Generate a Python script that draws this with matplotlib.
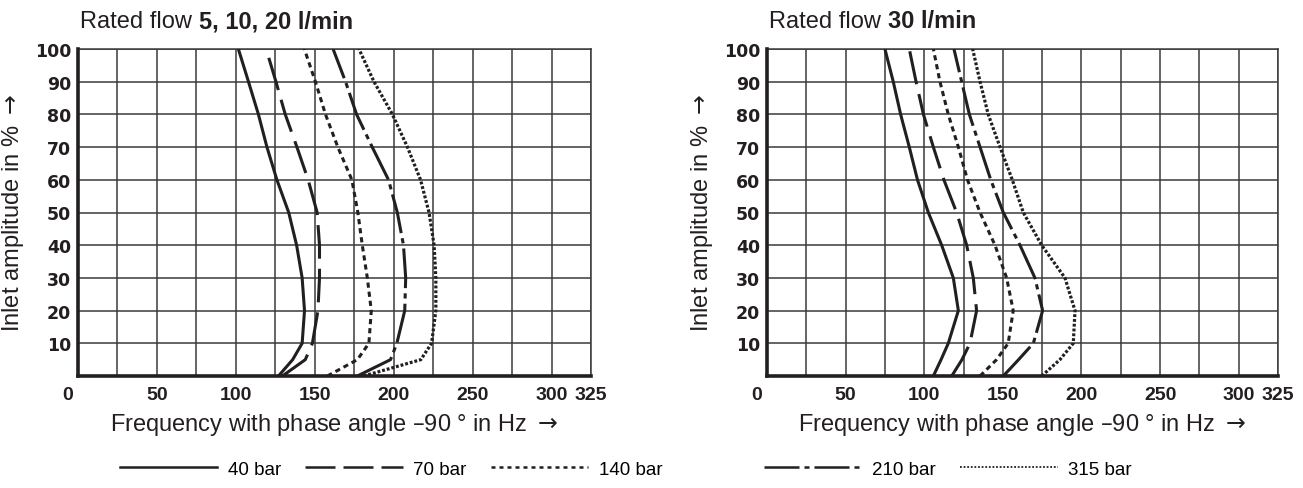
import matplotlib
matplotlib.use("Agg")
import numpy as np
from matplotlib import pyplot as plt
from matplotlib.lines import Line2D
from matplotlib import transforms

# amplitude levels in % (shared by every curve)
amplitude = [0, 5, 10, 20, 30, 40, 50, 60, 70, 80, 90, 100]

# rated flow 5, 10, 20 l/min : frequency in Hz at each amplitude
left_40 = [127, 136, 142, 143.5, 142, 138.5, 133.5, 126, 119.7, 114.3, 108, 101.6]
left_70 = [129.5, 144, 148.5, 152, 153, 153, 151.5, 145.8, 138.7, 131.3, 125.4, 119.2]
left_140 = [158, 177, 184.3, 185.8, 183.3, 180.1, 177.3, 173.5, 164.6, 156.8, 150.4, 143.4]
left_210 = [177, 198, 202, 207, 207.6, 206.2, 202.3, 196.7, 186.4, 176.5, 169.5, 161.6]
left_315 = [181, 217.2, 224, 226.7, 226.7, 225.6, 222.4, 217, 208.7, 199.2, 187.5, 178]

# rated flow 30 l/min
right_40 = [105.8, 110.7, 115.3, 121.7, 118.5, 111.1, 102.6, 95.7, 90.5, 85, 80.3, 75]
right_70 = [117.5, 124, 129.1, 133.3, 131.2, 127, 120.6, 112.5, 105.8, 99.5, 94.8, 90.5]
right_140 = [135.5, 146, 153.4, 156.6, 152.4, 145, 135.5, 127.5, 121.7, 115.3, 110, 105.8]
right_210 = [150.3, 160, 169.4, 175.3, 170.4, 160.9, 150.3, 142.3, 135.5, 128.7, 123.8, 118.9]
right_315 = [174.7, 186.3, 194.8, 195.9, 189.5, 174.7, 163, 156, 148.2, 140.7, 135.5, 130.8]

labels = ["40 bar", "70 bar", "140 bar", "210 bar", "315 bar"]
x_ticks = list(range(0, 326, 25))
x_ticklabels = ["", "", "50", "", "100", "", "150", "", "200", "", "250", "", "300", "325"]
y_ticks = list(range(0, 101, 10))
y_ticklabels = [""] + [str(v) for v in range(10, 101, 10)]

styles = [
    dict(linestyle="-", lw=2.2),
    dict(linestyle=(0, (11, 3.3)), lw=2.2),
    dict(linestyle=(0, (1.7, 1.3)), lw=2.2),
    dict(linestyle=(0, (13, 1.7, 1.7, 1.7)), lw=2.2),
    dict(linestyle=(0, (0.9, 0.6)), lw=2.3),
]
legend_styles = [
    dict(linestyle="-", lw=1.8),
    dict(linestyle=(0, (12, 3.2)), lw=1.8),
    dict(linestyle=(0, (1.6, 1.6)), lw=1.8),
    dict(linestyle=(0, (14, 2, 2, 2)), lw=1.8),
    dict(linestyle=(0, (1, 1)), lw=1.3),
]

text_font = ["Liberation Sans", "DejaVu Sans"]
ink = "#231f20"
label_size = 17

fig = plt.figure(figsize=(13.03, 4.89), dpi=100)
ax_l = fig.add_axes([78 / 1303, 1 - 377 / 489, 513 / 1303, 327 / 489])
ax_r = fig.add_axes([767 / 1303, 1 - 377 / 489, 511 / 1303, 327 / 489])


def draw_panel(ax, series, bold_part):
    for freq, st in zip(series, styles):
        ax.plot(freq, amplitude, color=ink, solid_capstyle="butt",
                dash_capstyle="butt", zorder=3, **st)
    ax.set_xlim(0, 325)
    ax.set_ylim(0, 100)
    ax.set_xticks(x_ticks)
    ax.set_xticklabels(x_ticklabels, family=["Liberation Sans", "DejaVu Sans"],
                       fontweight="bold", fontsize=14, color=ink)
    ax.set_yticks(y_ticks)
    ax.set_yticklabels(y_ticklabels, family="DejaVu Sans", fontweight="bold",
                       fontsize=12.5, color=ink)
    ax.tick_params(axis="both", length=0)
    ax.tick_params(axis="x", pad=7)
    ax.tick_params(axis="y", pad=5)
    ax.grid(True, color="#3a3a3a", lw=1.1, zorder=1)
    for side in ["left", "bottom"]:
        ax.spines[side].set_linewidth(2.6)
        ax.spines[side].set_color(ink)
        ax.spines[side].set_zorder(5)
    for side in ["top", "right"]:
        ax.spines[side].set_linewidth(1.1)
        ax.spines[side].set_color("#3a3a3a")
    # the "0" sits a little left of the axis corner
    off = transforms.ScaledTranslation(-10 / 100, -7 / 72, fig.dpi_scale_trans)
    ax.text(0, 0, "0", transform=ax.get_xaxis_transform() + off, ha="center",
            va="top", family=["Liberation Sans", "DejaVu Sans"],
            fontweight="bold", fontsize=14, color=ink)
    ax.set_xlabel("Frequency with phase angle \u201390 \u00b0 in Hz $\\rightarrow$",
                  family=text_font, fontsize=label_size, labelpad=6, color=ink)
    ax.set_ylabel("Inlet amplitude in % $\\rightarrow$", family=text_font,
                  fontsize=label_size, labelpad=6, color=ink)
    t = ax.text(0.004, 1.067, "Rated flow ", transform=ax.transAxes,
                family=text_font, fontsize=label_size, va="baseline", color=ink)
    ax.annotate(bold_part, xycoords=t, xy=(1, 0), va="bottom",
                family=text_font, fontsize=label_size, fontweight="bold", color=ink)


draw_panel(ax_l, [left_40, left_70, left_140, left_210, left_315], "5, 10, 20 l/min")
draw_panel(ax_r, [right_40, right_70, right_140, right_210, right_315], "30 l/min")

handles = [Line2D([], [], color=ink, **st) for st in legend_styles]
leg_kw = dict(frameon=False, handlelength=5.2, handletextpad=0.55,
              columnspacing=1.3, prop={"family": text_font, "size": 13.5},
              loc="center", borderaxespad=0)
leg1 = fig.legend(handles[:3], labels[:3], ncol=3,
                  bbox_to_anchor=(391 / 1303, 1 - 470 / 489), **leg_kw)
leg2 = fig.legend(handles[3:], labels[3:], ncol=2,
                  bbox_to_anchor=(948 / 1303, 1 - 470 / 489), **leg_kw)

fig.savefig("out.png", dpi=100, facecolor="white")
